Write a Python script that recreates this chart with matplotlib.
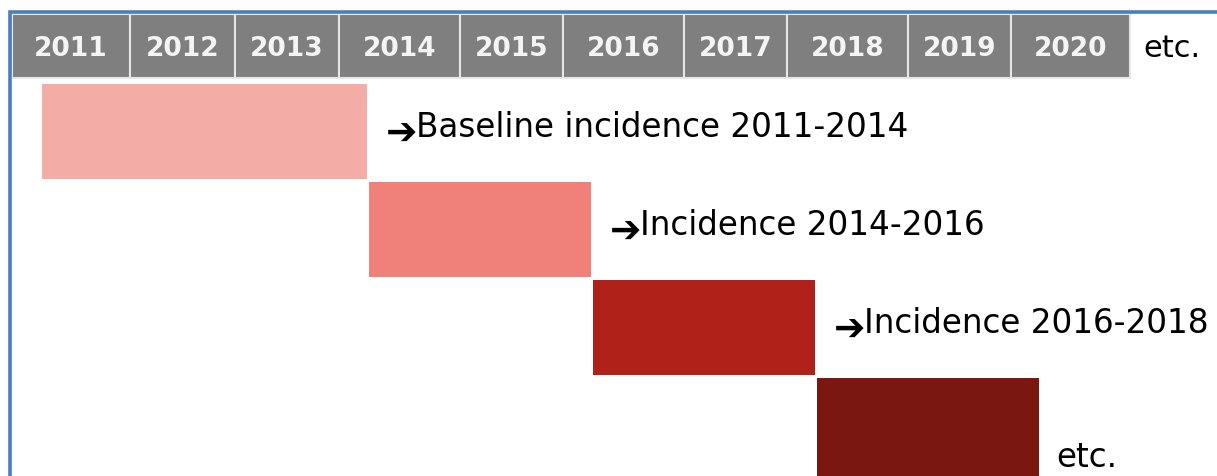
import numpy as np
import matplotlib.pyplot as plt
from matplotlib.patches import Rectangle

# header years and the incidence periods
years = [2011, 2012, 2013, 2014, 2015, 2016, 2017, 2018, 2019, 2020]
period_start = [2011, 2014, 2016, 2018]
period_end = [2014, 2016, 2018, 2020]
period_labels = ["Baseline incidence 2011-2014", "Incidence 2014-2016",
                 "Incidence 2016-2018", "etc."]
bar_colors = ["#f4aca7", "#ef807a", "#b02219", "#7a1710"]

# pixel edges of the header cells (the slide has uneven cells)
cell_edges = [12, 130, 235, 339, 460, 563, 684, 787, 908, 1011, 1130]
year_edges = np.arange(years[0], years[-1] + 2)


def yx(y):
    return np.interp(y, year_edges, cell_edges)


W, H = 1217, 477
fig = plt.figure(figsize=(W / 100, H / 100), dpi=100)
ax = fig.add_axes([0, 0, 1, 1])
ax.set_xlim(0, W)
ax.set_ylim(H, 0)
ax.axis("off")

# blue frame
ax.plot([9.5, 9.5, W], [H, 12.5, 12.5], color="#4a7ebb", lw=2.6,
        solid_capstyle="butt", solid_joinstyle="miter")

# header row
for i, yr in enumerate(years):
    x0, x1 = yx(yr), yx(yr + 1)
    ax.add_patch(Rectangle((x0, 15), x1 - x0, 64, facecolor="#7f7f7f",
                           edgecolor="#e6e6e6", lw=1.5))
    ax.text((x0 + x1) / 2, 56, str(yr), color="#f4f4f4", fontsize=19,
            fontweight="bold", ha="center", va="baseline")
ax.text(1143, 57, "etc.", color="black", fontsize=22, ha="left",
        va="baseline")

# period bars
row_top = 85
row_h = 98
for i in range(len(period_start)):
    x0 = yx(period_start[i] + 0.25)
    x1 = yx(period_end[i] + 0.25)
    top = row_top + i * row_h
    h = row_h - 3 if i < len(period_start) - 1 else H - top + 2
    ax.add_patch(Rectangle((x0, top), x1 - x0 - 2, h,
                           facecolor=bar_colors[i], edgecolor="none"))
    if i < len(period_start) - 1:
        ax.text(x1 + 17, top + 50, "\u2794", fontsize=27, fontweight="bold",
                ha="left", va="center", color="black")
        ax.text(x1 + 47, top + 52, period_labels[i], fontsize=23.5,
                ha="left", va="baseline", color="black")
    else:
        ax.text(x1 + 15, 467, period_labels[i], fontsize=23.5, ha="left",
                va="baseline", color="black")

fig.savefig("out.png", dpi=100)
